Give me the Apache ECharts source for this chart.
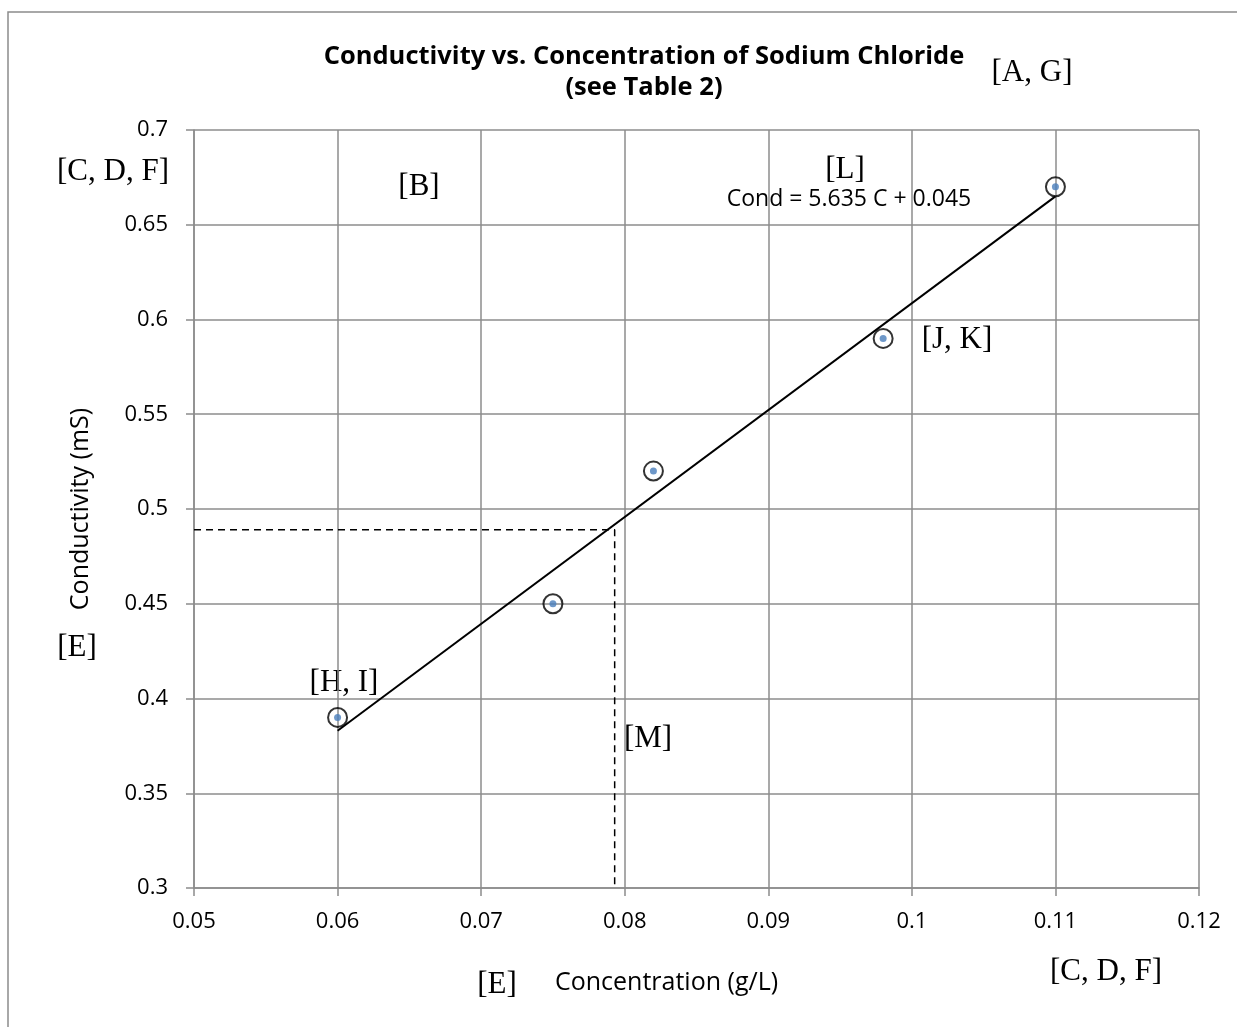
<!DOCTYPE html>
<html>
<head>
<meta charset="utf-8">
<script src="https://cdn.jsdelivr.net/npm/echarts@6/dist/echarts.min.js"></script>
<style>
html,body{margin:0;padding:0;background:#fff;}
#chart{width:1237px;height:1027px;}
</style>
</head>
<body>
<div id="chart"></div>
<script>
var concentration = [0.06, 0.075, 0.082, 0.098, 0.11];
var conductivity = [0.39, 0.45, 0.52, 0.59, 0.67];
var trendX = [0.06, 0.11];
var trendY = [0.383, 0.665];
var guideX = [0.05, 0.0793, 0.0793];
var guideY = [0.489, 0.489, 0.3];

function pairs(a, b) { return a.map(function (v, i) { return [v, b[i]]; }); }

var chart = echarts.init(document.getElementById('chart'));
var serif = '"Liberation Serif", "Times New Roman", serif';
var sans = '"Open Sans", sans-serif';
function note(text, x, y, size, font) {
  return { type: 'text', x: x, y: y, style: { text: text, font: (size || 31) + 'px ' + (font || serif), fill: '#000', textAlign: 'center', textVerticalAlign: 'middle' } };
}
chart.setOption({
  animation: false,
  backgroundColor: '#fff',
  title: {
    text: 'Conductivity vs. Concentration of Sodium Chloride\n(see Table 2)',
    left: 639, top: 36, textAlign: 'center',
    textStyle: { fontFamily: sans, fontWeight: 'bold', fontSize: 25.5, lineHeight: 31, color: '#000' }
  },
  grid: { left: 194, right: 38, top: 130, bottom: 139 },
  xAxis: {
    type: 'value', min: 0.05, max: 0.12, interval: 0.01,
    name: 'Concentration (g/L)', nameLocation: 'middle', nameGap: 82,
    nameTextStyle: { fontFamily: sans, fontSize: 25, color: '#000', padding: [0, 60, 0, 0] },
    axisLine: { show: true, lineStyle: { color: '#8c8c8c', width: 1.5 } },
    axisTick: { show: true, length: 8, lineStyle: { color: '#8c8c8c', width: 1.5 } },
    axisLabel: { fontFamily: sans, fontSize: 22, color: '#000', margin: 23,
      formatter: function (v) { return String(+v.toFixed(2)); } },
    splitLine: { show: true, lineStyle: { color: '#8c8c8c', width: 1.5 } }
  },
  yAxis: {
    type: 'value', min: 0.3, max: 0.7, interval: 0.05,
    name: 'Conductivity (mS)', nameLocation: 'middle', nameGap: 101, nameRotate: 90,
    nameTextStyle: { fontFamily: sans, fontSize: 25, color: '#000' },
    axisLine: { show: true, lineStyle: { color: '#8c8c8c', width: 1.5 } },
    axisTick: { show: true, length: 8, lineStyle: { color: '#8c8c8c', width: 1.5 } },
    axisLabel: { fontFamily: sans, fontSize: 22, color: '#000', margin: 26,
      formatter: function (v) { return String(+v.toFixed(2)); } },
    splitLine: { show: true, lineStyle: { color: '#8c8c8c', width: 1.5 } }
  },
  series: [
    { type: 'line', data: pairs(guideX, guideY), symbol: 'none', silent: true,
      lineStyle: { color: '#000', width: 1.5, type: [7, 5] }, z: 3 },
    { type: 'line', data: pairs(trendX, trendY), symbol: 'none', silent: true,
      lineStyle: { color: '#000', width: 2 }, z: 4 },
    { type: 'scatter', data: pairs(concentration, conductivity), symbol: 'circle', symbolSize: 19,
      itemStyle: { color: 'rgba(255,255,255,0)', borderColor: '#000', borderWidth: 2 }, z: 5 },
    { type: 'scatter', data: pairs(concentration, conductivity), symbol: 'circle', symbolSize: 7,
      itemStyle: { color: '#4a7ebb' }, z: 6 }
  ],
  graphic: [
    { type: 'rect', shape: { x: 8, y: 12, width: 1300, height: 1100 }, style: { fill: 'none', stroke: '#8c8c8c', lineWidth: 1.5 }, z: -1 },
    note('[A, G]', 1032, 73),
    note('[C, D, F]', 113, 172),
    note('[B]', 419, 187),
    note('[L]', 845, 170),
    note('Cond = 5.635 C + 0.045', 849, 199, 23, sans),
    note('[J, K]', 957, 340),
    note('[H, I]', 344, 683),
    note('[E]', 77, 648),
    note('[M]', 648, 739),
    note('[E]', 497, 985),
    note('[C, D, F]', 1106, 972)
  ]
});
</script>
</body>
</html>
